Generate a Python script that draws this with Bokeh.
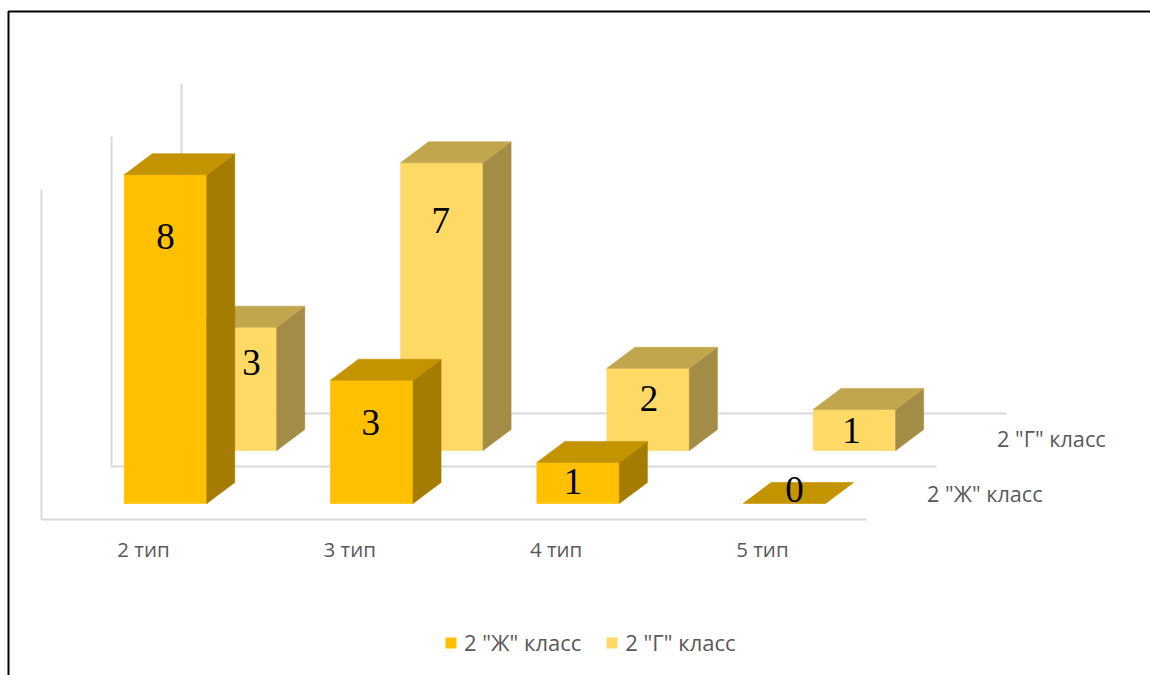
from bokeh.plotting import figure
from bokeh.models import ColumnDataSource, Legend, LegendItem, LinearAxis, FixedTicker
from bokeh.core.properties import value
from bokeh.embed import file_html
from bokeh.resources import INLINE

categories = ["2 тип", "3 тип", "4 тип", "5 тип"]
series_names = ['2 "Ж" класс', '2 "Г" класс']
zh_values = [8, 3, 1, 0]
g_values = [3, 7, 2, 1]

# ---- layout (page pixels -> data units)
W, H = 1150, 675
PX_X = 206.3      # pixels per category
PX_Y = 41.1       # pixels per value unit
X0_PAGE = 165.0   # page x of first front-series category centre
Y0_PAGE = 503.0   # page y of value 0 for the front series
fx = lambda px: (px - X0_PAGE) / PX_X
fy = lambda py: (Y0_PAGE - py) / PX_Y

BAR_W = 82.5 / PX_X
DX, DY = 28 / PX_X, 21 / PX_Y           # bar depth
SX, SY = 70 / PX_X, 53 / PX_Y           # series shift
FLOOR_DX, FLOOR_DY = -124 / PX_X, -16 / PX_Y
WALL = 330 / PX_Y
LABEL_NUDGE_X = [[0, -1, -5, 10], [16, -1, 1, -3]]
LABEL_OFFSET = [[6.5, 1.96, 0.53, 0.34], [2.15, 5.6, 1.26, 0.48]]
GRID = "#D9D9D9"
TXT = "#595959"
STYLES = [
    dict(front="#FFC000", top="#C49300", side="#A47C00"),
    dict(front="#FFD966", top="#C2A64E", side="#A38C45"),
]
FONT = "Open Sans"

p = figure(width=W, height=H, output_backend="svg", toolbar_location=None,
           x_range=(fx(0), fx(W)), y_range=(fy(H), fy(0)),
           min_border=0, min_border_left=0, min_border_right=0,
           min_border_top=0, min_border_bottom=0,
           x_axis_type=None, y_axis_type=None, outline_line_color=None)
p.grid.visible = False

# page border (top and left only)
p.line([fx(8), fx(8), fx(W)], [fy(H), fy(11), fy(11)], line_color="black", line_width=2)

# walls and floors for the rear series
for s in (2, 1):
    x_l = FLOOR_DX + s * SX
    x_r = x_l + 825 / PX_X
    y_b = FLOOR_DY + s * SY
    p.line([x_l, x_l, x_r], [y_b + WALL, y_b, y_b], line_color=GRID, line_width=2)


def boxes(vals, s):
    fr, tp, sd, xc = [], [], [], []
    for i, v in enumerate(vals):
        l = i - BAR_W / 2 + s * SX
        r = l + BAR_W
        b = s * SY
        t = b + v
        fr.append(([l, r, r, l], [b, b, t, t]))
        tp.append(([l, r, r + DX, l + DX], [t, t, t + DY, t + DY]))
        sd.append(([r, r + DX, r + DX, r], [b, b + DY, t + DY, t]))
        xc.append(l + BAR_W / 2)
    return fr, tp, sd, xc


front_renderers = []
labels = []
for s, vals in reversed(list(enumerate([zh_values, g_values]))):
    fr, tp, sd, xc = boxes(vals, s)
    st = STYLES[s]
    r_front = None
    for i, v in enumerate(vals):
        if v > 0:
            rf = p.patch(*fr[i], fill_color=st["front"], line_color=st["front"], line_width=0.6)
            r_front = r_front or rf
            p.patch(*sd[i], fill_color=st["side"], line_color=st["side"], line_width=0.6)
        p.patch(*tp[i], fill_color=st["top"], line_color=st["top"], line_width=0.6)
    front_renderers.insert(0, r_front)
    labels.append(dict(x=[c + n / PX_X for c, n in zip(xc, LABEL_NUDGE_X[s])],
                       y=[s * SY + o for o in LABEL_OFFSET[s]],
                       t=[str(v) for v in vals]))

for d in labels:
    p.text("x", "y", text="t", source=ColumnDataSource(d), text_font=value("Liberation Serif"),
           text_font_size="37px", text_color="black", text_align="center", text_baseline="middle")

# real axis for the front floor
ticks = [i - 22 / PX_X for i in range(len(categories))]
ax = LinearAxis(fixed_location=FLOOR_DY, bounds=(FLOOR_DX, FLOOR_DX + 825 / PX_X),
                ticker=FixedTicker(ticks=ticks),
                major_label_overrides=dict(zip(ticks, categories)),
                major_tick_line_color=None, minor_tick_line_color=None,
                axis_line_color=GRID, axis_line_width=2,
                major_label_text_color=TXT, major_label_text_font=FONT,
                major_label_text_font_size="20.5px", major_label_standoff=9)
p.add_layout(ax, "below")
p.line([FLOOR_DX, FLOOR_DX], [FLOOR_DY, FLOOR_DY + WALL], line_color=GRID, line_width=2)

# depth-axis labels
p.text([fx(926.5), fx(996.5)], [fy(493), fy(438)], text=series_names, text_font=value(FONT),
       text_font_size="21.7px", text_color=TXT, text_align="left", text_baseline="middle")

legend = Legend(items=[LegendItem(label=series_names[i], renderers=[front_renderers[i]]) for i in range(2)],
                orientation="horizontal", location=(444, 18),
                background_fill_alpha=0, border_line_color=None,
                label_text_font=FONT, label_text_font_size="22px", label_text_color=TXT,
                glyph_width=13, glyph_height=13, label_standoff=7, spacing=24, padding=4, margin=0)
p.add_layout(legend, "center")

open("out.html", "w").write(file_html(p, INLINE))
